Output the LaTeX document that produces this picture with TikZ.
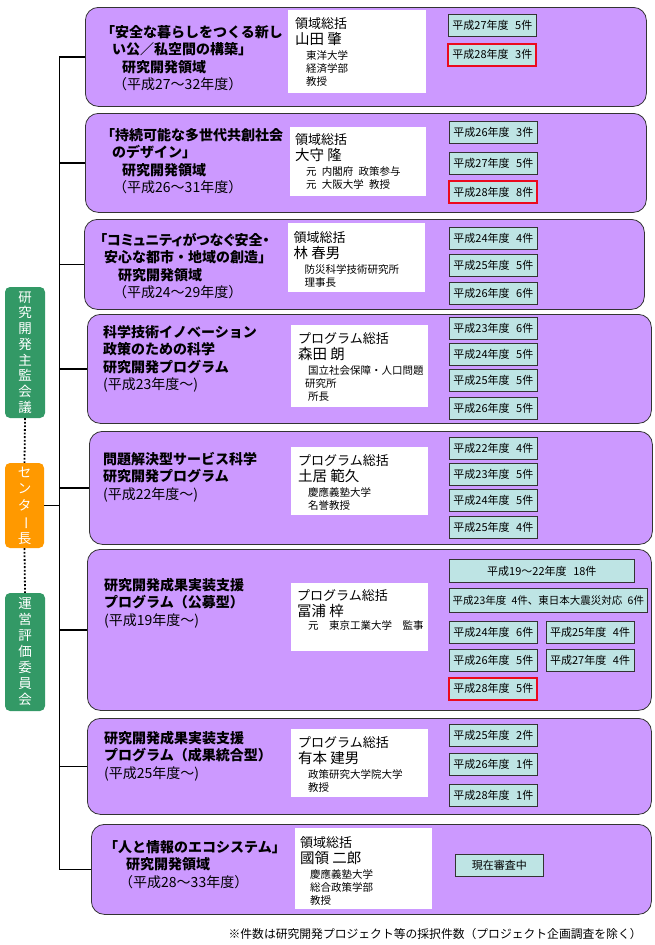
\documentclass[tikz,border=0pt]{standalone}
\usepackage{fontspec}
\setmainfont{Noto Sans CJK JP}
\usepackage{xcolor}
\usepackage{tikz}
\usetikzlibrary{positioning}

\definecolor{panelpurple}{RGB}{204,153,255}
\definecolor{yearteal}{RGB}{190,228,228}
\definecolor{boardgreen}{RGB}{51,153,102}
\definecolor{chieforange}{RGB}{255,153,0}
\definecolor{newred}{RGB}{235,10,30}

\begin{document}
\begin{tikzpicture}[x=1pt,y=-1pt,
  panel/.style={draw=black!80,line width=0.8pt,fill=panelpurple,rounded corners=13pt,anchor=north west,inner sep=0pt},
  leader/.style={fill=white,anchor=north west,inner sep=0pt},
  leadtext/.style={anchor=north west,inner sep=0pt,align=left,font=\fontsize{10.5}{15.5}\selectfont},
  title/.style={anchor=north west,inner sep=0pt,align=left,font=\bfseries\fontsize{14}{17.5}\selectfont},
  yearbox/.style={draw=black!80,line width=0.7pt,fill=yearteal,minimum width=88pt,minimum height=22pt,inner sep=0pt,font=\fontsize{11}{12}\selectfont},
  newyear/.style={yearbox,draw=newred,line width=2pt},
  side/.style={rounded corners=5pt,minimum width=40pt,inner sep=0pt,text=white,align=center,font=\fontsize{13.5}{15.7}\selectfont},
  link/.style={line width=1.8pt},
  dotlink/.style={line width=1.8pt,dash pattern=on 1.8pt off 1.8pt},
  note/.style={inner sep=0pt,font=\fontsize{11.8}{14}\selectfont}]

\useasboundingbox (0,0) rectangle (655,945);

\node[panel,minimum width=561pt,minimum height=99pt] (p1) at (85,7) {};
\node[panel,minimum width=561pt,minimum height=99pt] (p2) at (85,113) {};
\node[panel,minimum width=560pt,minimum height=90pt] (p3) at (84,219) {};
\node[panel,minimum width=564pt,minimum height=109pt] (p4) at (87,314) {};
\node[panel,minimum width=563pt,minimum height=113pt] (p5) at (89,431) {};
\node[panel,minimum width=564pt,minimum height=161pt] (p6) at (87,549) {};
\node[panel,minimum width=564pt,minimum height=96pt] (p7) at (87,718) {};
\node[panel,minimum width=560pt,minimum height=90pt] (p8) at (91,824) {};

\node[title,below right=18pt and 16pt of p1.north west] (t1) {「安全な暮らしをつくる新し\\\hspace*{11pt}い公／私空間の構築」\\\hspace*{21pt}研究開発領域\\\hspace*{12pt}{\mdseries（平成27～32年度）}};
\node[title,below right=15pt and 16pt of p2.north west] (t2) {「持続可能な多世代共創社会\\\hspace*{11pt}のデザイン」\\\hspace*{21pt}研究開発領域\\\hspace*{12pt}{\mdseries（平成26～31年度）}};
\node[title,below right=14pt and 16pt of p3.north west] (t3) {{\addfontfeature{RawFeature=+palt}「コミュニティがつなぐ安全・}\\\hspace*{4pt}安心な都市・地域の創造」\\\hspace*{18pt}研究開発領域\\\hspace*{13pt}{\mdseries（平成24～29年度）}};
\node[title,below right=11pt and 16pt of p4.north west] (t4) {科学技術イノベーション\\政策のための科学\\研究開発プログラム\\{\mdseries (平成23年度～)}};
\node[title,below right=21pt and 14pt of p5.north west] (t5) {問題解決型サービス科学\\研究開発プログラム\\{\mdseries (平成22年度～)}};
\node[title,below right=29pt and 17pt of p6.north west] (t6) {研究開発成果実装支援\\プログラム（公募型）\\{\mdseries (平成19年度～)}};
\node[title,below right=13pt and 17pt of p7.north west] (t7) {研究開発成果実装支援\\プログラム（成果統合型）\\{\mdseries (平成25年度～)}};
\node[title,below right=16pt and 13pt of p8.north west] (t8) {「人と情報のエコシステム」\\\hspace*{22pt}研究開発領域\\\hspace*{15pt}{\mdseries（平成28～33年度）}};

\node[leader,minimum width=138pt,minimum height=83pt] (w1) at (288,10) {};
\node[leader,minimum width=136pt,minimum height=69pt] (w2) at (290,127) {};
\node[leader,minimum width=137pt,minimum height=69pt] (w3) at (288,223) {};
\node[leader,minimum width=137pt,minimum height=82pt] (w4) at (291,325) {};
\node[leader,minimum width=137pt,minimum height=68pt] (w5) at (291,447) {};
\node[leader,minimum width=137pt,minimum height=68pt] (w6) at (291,583) {};
\node[leader,minimum width=137pt,minimum height=68pt] (w7) at (291,729) {};
\node[leader,minimum width=137pt,minimum height=81pt] (w8) at (295,828) {};

\node[leadtext,below right=7.5pt and 7pt of w1.north west] (l1) {{\fontsize{13}{15}\selectfont 領域総括}\\{\fontsize{14.5}{15}\selectfont 山田 肇}\\\hspace*{11pt}東洋大学\\[-2.5pt]\hspace*{11pt}経済学部\\[-2.5pt]\hspace*{11pt}教授};
\node[leadtext,below right=6.5pt and 5pt of w2.north west] (l2) {{\fontsize{13}{15}\selectfont 領域総括}\\{\fontsize{14.5}{15}\selectfont 大守 隆}\\\hspace*{11pt}元\enspace 内閣府\enspace 政策参与\\[-2.5pt]\hspace*{11pt}元\enspace 大阪大学\enspace 教授};
\node[leadtext,below right=8.5pt and 5.5pt of w3.north west] (l3) {{\fontsize{13}{15}\selectfont 領域総括}\\{\fontsize{14.5}{15}\selectfont 林 春男}\\\hspace*{11pt}防災科学技術研究所\\[-2.5pt]\hspace*{11pt}理事長};
\node[leadtext,below right=7.5pt and 7pt of w4.north west] (l4) {{\fontsize{13}{15}\selectfont プログラム総括}\\{\fontsize{14.5}{15}\selectfont 森田 朗}\\\hspace*{10pt}国立社会保障・人口問題\\[-2.5pt]\hspace*{7pt}研究所\\[-2.5pt]\hspace*{10pt}所長};
\node[leadtext,below right=7.5pt and 7pt of w5.north west] (l5) {{\fontsize{13}{15}\selectfont プログラム総括}\\{\fontsize{14.5}{15}\selectfont 土居 範久}\\\hspace*{10pt}慶應義塾大学\\[-2.5pt]\hspace*{10pt}名誉教授};
\node[leadtext,below right=6.5pt and 6pt of w6.north west] (l6) {{\fontsize{13}{15}\selectfont プログラム総括}\\{\fontsize{14.5}{15}\selectfont 冨浦 梓}\\[-2.5pt]\hspace*{11pt}元　東京工業大学　監事};
\node[leadtext,below right=7.5pt and 7pt of w7.north west] (l7) {{\fontsize{13}{15}\selectfont プログラム総括}\\{\fontsize{14.5}{15}\selectfont 有本 建男}\\\hspace*{10pt}政策研究大学院大学\\[-2.5pt]\hspace*{10pt}教授};
\node[leadtext,below right=8.5pt and 5pt of w8.north west] (l8) {{\fontsize{13}{15}\selectfont 領域総括}\\{\fontsize{14.5}{15}\selectfont 國領 二郎}\\\hspace*{10pt}慶應義塾大学\\[-2.5pt]\hspace*{10pt}総合政策学部\\[-2.5pt]\hspace*{10pt}教授};

\node[yearbox,anchor=north west] (y11) at (448,14) {平成27年度\hspace{0.6em}5件};
\node[newyear,below=6pt of y11] (y12) {平成28年度\hspace{0.6em}3件};

\node[yearbox,anchor=north west] (y21) at (449,121) {平成26年度\hspace{0.6em}3件};
\node[yearbox,below=8pt of y21] (y22) {平成27年度\hspace{0.6em}5件};
\node[newyear,below=6pt of y22] (y23) {平成28年度\hspace{0.6em}8件};

\node[yearbox,anchor=north west] (y31) at (449,227) {平成24年度\hspace{0.6em}4件};
\node[yearbox,below=4pt of y31] (y32) {平成25年度\hspace{0.6em}5件};
\node[yearbox,below=6pt of y32] (y33) {平成26年度\hspace{0.6em}6件};

\node[yearbox,anchor=north west] (y41) at (449,317) {平成23年度\hspace{0.6em}6件};
\node[yearbox,below=3.5pt of y41] (y42) {平成24年度\hspace{0.6em}5件};
\node[yearbox,below=3.5pt of y42] (y43) {平成25年度\hspace{0.6em}5件};
\node[yearbox,below=5pt of y43] (y44) {平成26年度\hspace{0.6em}5件};

\node[yearbox,anchor=north west] (y51) at (449,437) {平成22年度\hspace{0.6em}4件};
\node[yearbox,below=3pt of y51] (y52) {平成23年度\hspace{0.6em}5件};
\node[yearbox,below=4pt of y52] (y53) {平成24年度\hspace{0.6em}5件};
\node[yearbox,below=4pt of y53] (y54) {平成25年度\hspace{0.6em}4件};

\node[yearbox,anchor=north west,minimum width=185pt,minimum height=23pt] (y61) at (449,559) {平成19～22年度\hspace{0.6em}18件};
\node[yearbox,below=5pt of y61.south west,anchor=north west,minimum width=198pt,minimum height=24pt,font=\fontsize{10.5}{12}\selectfont] (y62) {平成23年度\hspace{0.5em}4件、東日本大震災対応\hspace{0.5em}6件};
\node[yearbox,below=9pt of y62.south west,anchor=north west] (y63) {平成24年度\hspace{0.6em}6件};
\node[yearbox,right=8pt of y63] (y64) {平成25年度\hspace{0.6em}4件};
\node[yearbox,below=5pt of y63] (y65) {平成26年度\hspace{0.6em}5件};
\node[yearbox,right=8pt of y65] (y66) {平成27年度\hspace{0.6em}4件};
\node[newyear,below=5pt of y65] (y67) {平成28年度\hspace{0.6em}5件};

\node[yearbox,anchor=north west] (y71) at (449,724) {平成25年度\hspace{0.6em}2件};
\node[yearbox,below=6pt of y71] (y72) {平成26年度\hspace{0.6em}1件};
\node[yearbox,below=9pt of y72] (y73) {平成28年度\hspace{0.6em}1件};

\node[yearbox,anchor=north west] (y81) at (455,854) {現在審査中};

\node[note,below left=13pt and 10pt of p8.south east] (note) {※件数は研究開発プロジェクト等の採択件数（プロジェクト企画調査を除く）};

\node[side,fill=boardgreen,minimum height=131pt] (kanshu) at (25,352.5) {研\\究\\開\\発\\主\\監\\会\\議};
\node[side,fill=chieforange,minimum width=39pt,minimum height=85pt,font=\fontsize{13.5}{16.5}\selectfont] (chief) at (24.5,505.5) {セ\\ン\\タ\\\rotatebox[origin=c]{-90}{ー}\\長};
\node[side,fill=boardgreen,minimum height=118pt,font=\fontsize{13.5}{16}\selectfont] (hyoka) at (25,652) {運\\営\\評\\価\\委\\員\\会};

\coordinate (trunk) at (59.5,0);
\draw[link] (p1.west) -- (p1.west -| trunk) -- (p8.west -| trunk) -- (p8.west);
\foreach \i in {2,...,7}
  \draw[link] (p\i.west) -- (p\i.west -| trunk);
\draw[link] (chief.east) -- (chief.east -| trunk);

\draw[dotlink] (kanshu.south) -- (chief.north);
\draw[dotlink] (chief.south) -- (hyoka.north);

\end{tikzpicture}
\end{document}
